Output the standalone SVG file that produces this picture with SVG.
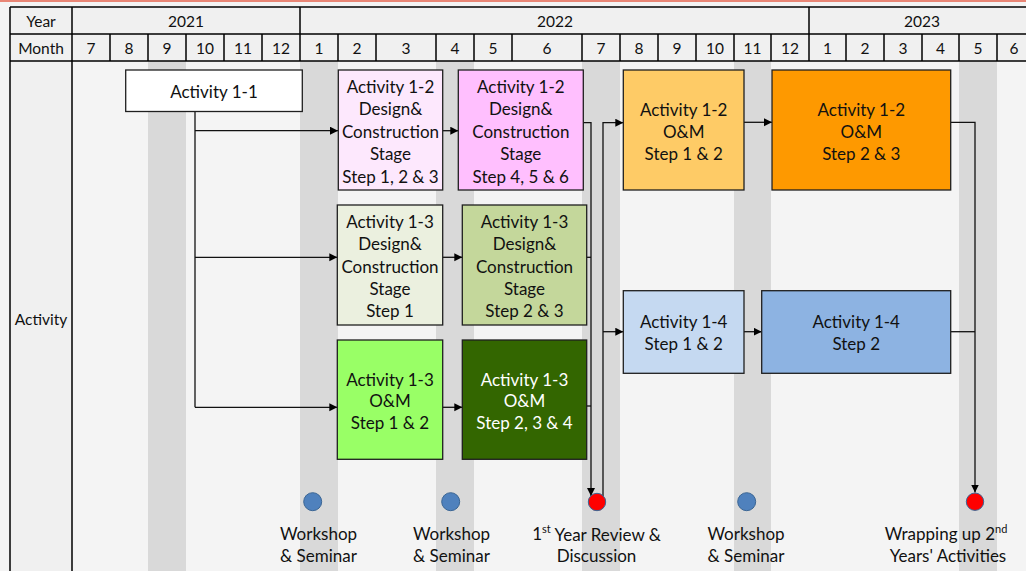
<svg xmlns="http://www.w3.org/2000/svg" width="1026" height="571" viewBox="0 0 1026 571">
  <style>
    .hdr { font-family: Lato, "Liberation Sans", sans-serif; font-size: 15.5px; fill: #111; text-anchor: middle; dominant-baseline: central; }
    .lbl { font-family: Lato, "Liberation Sans", sans-serif; font-size: 17px; fill: #111; text-anchor: middle; dominant-baseline: central; }
    .lbl.light { fill: #ffffff; }
    .box { stroke: #1f1f1f; stroke-width: 1.3; }
    .grid { stroke: #000; stroke-width: 1.5; fill: none; }
    .band { fill: #d9d9d9; }
    .conn { stroke: #111; stroke-width: 1.3; fill: none; }
    .dot-blue { fill: #4f81bd; stroke: #3a6594; stroke-width: 1; }
    .dot-red { fill: #ff0000; stroke: #3a6594; stroke-width: 1; }
  </style>
  <defs>
    <marker id="arrow" markerUnits="userSpaceOnUse" markerWidth="9" markerHeight="9" refX="8" refY="4" orient="auto">
      <path d="M0,0 L8,4 L0,8 Z" fill="#000"/>
    </marker>
  </defs>

  <!-- page background -->
  <rect x="0" y="0" width="1026" height="571" fill="#f4f4f4"/>
  <rect x="0" y="0" width="1026" height="2" fill="#e98676"/>

  <!-- month highlight bands -->
  <g id="bands">
    <rect class="band" x="148" y="61" width="38" height="510"/>
    <rect class="band" x="300" y="61" width="38" height="510"/>
    <rect class="band" x="436" y="61" width="38" height="510"/>
    <rect class="band" x="582" y="61" width="38" height="510"/>
    <rect class="band" x="734" y="61" width="37" height="510"/>
    <rect class="band" x="959" y="61" width="38" height="510"/>
  </g>

  <!-- timeline header -->
  <g id="header">
    <rect x="10" y="7" width="1020" height="54" fill="#f0f0f0"/>
    <rect x="10" y="61" width="62" height="510" fill="#f0f0f0"/>
    <path class="grid" d="M10,7 H1030 M10,34 H1030 M10,61 H1030"/>
    <path class="grid" d="M10,7 V571 M72,7 V571 M300,7 V61 M809,7 V61"/>
    <path class="grid" d="M110,34 V61 M148,34 V61 M186,34 V61 M224,34 V61 M262,34 V61 M338,34 V61 M376,34 V61 M436,34 V61 M474,34 V61 M512,34 V61 M582,34 V61 M620,34 V61 M658,34 V61 M696,34 V61 M734,34 V61 M771,34 V61 M846,34 V61 M884,34 V61 M922,34 V61 M959,34 V61 M997,34 V61"/>
    <text class="hdr" x="41" y="21">Year</text>
    <text class="hdr" x="186" y="21">2021</text>
    <text class="hdr" x="555" y="21">2022</text>
    <text class="hdr" x="922" y="21">2023</text>
    <text class="hdr" x="41" y="48">Month</text>
    <text class="hdr" x="91" y="48">7</text>
    <text class="hdr" x="129" y="48">8</text>
    <text class="hdr" x="167" y="48">9</text>
    <text class="hdr" x="205" y="48">10</text>
    <text class="hdr" x="243" y="48">11</text>
    <text class="hdr" x="281" y="48">12</text>
    <text class="hdr" x="319" y="48">1</text>
    <text class="hdr" x="357" y="48">2</text>
    <text class="hdr" x="406" y="48">3</text>
    <text class="hdr" x="455" y="48">4</text>
    <text class="hdr" x="493" y="48">5</text>
    <text class="hdr" x="547" y="48">6</text>
    <text class="hdr" x="601" y="48">7</text>
    <text class="hdr" x="639" y="48">8</text>
    <text class="hdr" x="677" y="48">9</text>
    <text class="hdr" x="715" y="48">10</text>
    <text class="hdr" x="752.5" y="48">11</text>
    <text class="hdr" x="790" y="48">12</text>
    <text class="hdr" x="827.5" y="48">1</text>
    <text class="hdr" x="865" y="48">2</text>
    <text class="hdr" x="903" y="48">3</text>
    <text class="hdr" x="940.5" y="48">4</text>
    <text class="hdr" x="978" y="48">5</text>
    <text class="hdr" x="1014" y="48">6</text>
    <text class="hdr" x="41" y="319">Activity</text>
  </g>

  <!-- connectors -->
  <g id="connectors">
    <path class="conn" d="M195,111.5 V407.3"/>
    <path class="conn" d="M195,130.7 H338" marker-end="url(#arrow)"/>
    <path class="conn" d="M195,257.3 H337.3" marker-end="url(#arrow)"/>
    <path class="conn" d="M195,407.3 H337.3" marker-end="url(#arrow)"/>
    <path class="conn" d="M442.7,130.7 H458.3" marker-end="url(#arrow)"/>
    <path class="conn" d="M442.7,257.3 H462.3" marker-end="url(#arrow)"/>
    <path class="conn" d="M442.7,407.3 H462.3" marker-end="url(#arrow)"/>
    <path class="conn" d="M583.3,122.7 H591 V496" marker-end="url(#arrow)"/>
    <path class="conn" d="M586.7,257.3 H591"/>
    <path class="conn" d="M586.7,406 H591"/>
    <path class="conn" d="M603,496 V122.7 H623.3" marker-end="url(#arrow)"/>
    <path class="conn" d="M603,331.7 H623.3" marker-end="url(#arrow)"/>
    <path class="conn" d="M744,122.3 H772" marker-end="url(#arrow)"/>
    <path class="conn" d="M744,331.7 H761.7" marker-end="url(#arrow)"/>
    <path class="conn" d="M950.7,122.3 H975 V492.5" marker-end="url(#arrow)"/>
    <path class="conn" d="M950.7,331.7 H975"/>
  </g>

  <!-- activity boxes -->
  <g id="act-1-1">
    <rect class="box" x="125.7" y="70" width="176.6" height="41.5" fill="#ffffff"/>
    <text class="lbl" x="214" y="91">Activity 1-1</text>
  </g>
  <g id="act-1-2-dc-a">
    <rect class="box" x="338.3" y="70" width="104.4" height="120" fill="#fde8fd"/>
    <text class="lbl" x="390.5" y="86">Activity 1-2</text>
    <text class="lbl" x="390.5" y="108.5">Design&amp;</text>
    <text class="lbl" x="390.5" y="131">Construction</text>
    <text class="lbl" x="390.5" y="153.5">Stage</text>
    <text class="lbl" x="390.5" y="176">Step 1, 2 &amp; 3</text>
  </g>
  <g id="act-1-2-dc-b">
    <rect class="box" x="458.3" y="70" width="125" height="120" fill="#ffbffe"/>
    <text class="lbl" x="520.8" y="86">Activity 1-2</text>
    <text class="lbl" x="520.8" y="108.5">Design&amp;</text>
    <text class="lbl" x="520.8" y="131">Construction</text>
    <text class="lbl" x="520.8" y="153.5">Stage</text>
    <text class="lbl" x="520.8" y="176">Step 4, 5 &amp; 6</text>
  </g>
  <g id="act-1-2-om-a">
    <rect class="box" x="623.3" y="70" width="120.7" height="120" fill="#fecb66"/>
    <text class="lbl" x="683.7" y="109">Activity 1-2</text>
    <text class="lbl" x="683.7" y="131">O&amp;M</text>
    <text class="lbl" x="683.7" y="153.5">Step 1 &amp; 2</text>
  </g>
  <g id="act-1-2-om-b">
    <rect class="box" x="772" y="70" width="178.7" height="120" fill="#fe9900"/>
    <text class="lbl" x="861.3" y="109">Activity 1-2</text>
    <text class="lbl" x="861.3" y="131">O&amp;M</text>
    <text class="lbl" x="861.3" y="153.5">Step 2 &amp; 3</text>
  </g>
  <g id="act-1-3-dc-a">
    <rect class="box" x="337.3" y="205" width="105.4" height="120" fill="#ebf0df"/>
    <text class="lbl" x="390" y="221.5">Activity 1-3</text>
    <text class="lbl" x="390" y="243.5">Design&amp;</text>
    <text class="lbl" x="390" y="266">Construction</text>
    <text class="lbl" x="390" y="288">Stage</text>
    <text class="lbl" x="390" y="310">Step 1</text>
  </g>
  <g id="act-1-3-dc-b">
    <rect class="box" x="462.3" y="205" width="124.4" height="120" fill="#c4d79b"/>
    <text class="lbl" x="524.5" y="221.5">Activity 1-3</text>
    <text class="lbl" x="524.5" y="243.5">Design&amp;</text>
    <text class="lbl" x="524.5" y="266">Construction</text>
    <text class="lbl" x="524.5" y="288">Stage</text>
    <text class="lbl" x="524.5" y="310">Step 2 &amp; 3</text>
  </g>
  <g id="act-1-3-om-a">
    <rect class="box" x="337.3" y="340" width="105.4" height="119.3" fill="#99ff66"/>
    <text class="lbl" x="390" y="379">Activity 1-3</text>
    <text class="lbl" x="390" y="400.5">O&amp;M</text>
    <text class="lbl" x="390" y="422.5">Step 1 &amp; 2</text>
  </g>
  <g id="act-1-3-om-b">
    <rect class="box" x="462.3" y="340" width="124.4" height="119.3" fill="#336600"/>
    <text class="lbl light" x="524.5" y="379">Activity 1-3</text>
    <text class="lbl light" x="524.5" y="400.5">O&amp;M</text>
    <text class="lbl light" x="524.5" y="422.5">Step 2, 3 &amp; 4</text>
  </g>
  <g id="act-1-4-a">
    <rect class="box" x="623.3" y="290.7" width="120.7" height="82.6" fill="#c5d9f1"/>
    <text class="lbl" x="683.7" y="321.5">Activity 1-4</text>
    <text class="lbl" x="683.7" y="343.5">Step 1 &amp; 2</text>
  </g>
  <g id="act-1-4-b">
    <rect class="box" x="761.7" y="290.7" width="189" height="82.6" fill="#8db3e2"/>
    <text class="lbl" x="856.2" y="321.5">Activity 1-4</text>
    <text class="lbl" x="856.2" y="343.5">Step 2</text>
  </g>

  <!-- milestones -->
  <g id="ms-workshop-1">
    <circle class="dot-blue" cx="312.7" cy="501.7" r="9"/>
    <text class="lbl" x="318.5" y="533.5">Workshop</text>
    <text class="lbl" x="318.5" y="555">&amp; Seminar</text>
  </g>
  <g id="ms-workshop-2">
    <circle class="dot-blue" cx="450.7" cy="501.7" r="9"/>
    <text class="lbl" x="451.5" y="533.5">Workshop</text>
    <text class="lbl" x="451.5" y="555">&amp; Seminar</text>
  </g>
  <g id="ms-review">
    <circle class="dot-red" cx="597" cy="502" r="8.7"/>
    <text class="lbl" x="596.5" y="533.5">1<tspan font-size="11" dy="-6">st</tspan><tspan dy="6"> Year Review &amp;</tspan></text>
    <text class="lbl" x="596.5" y="555">Discussion</text>
  </g>
  <g id="ms-workshop-3">
    <circle class="dot-blue" cx="746.7" cy="501.7" r="9"/>
    <text class="lbl" x="746" y="533.5">Workshop</text>
    <text class="lbl" x="746" y="555">&amp; Seminar</text>
  </g>
  <g id="ms-wrap-up">
    <circle class="dot-red" cx="975" cy="501.7" r="8.7"/>
    <text class="lbl" x="946" y="533.5">Wrapping up 2<tspan font-size="11" dy="-6">nd</tspan></text>
    <text class="lbl" x="948" y="555">Years' Activities</text>
  </g>
</svg>
